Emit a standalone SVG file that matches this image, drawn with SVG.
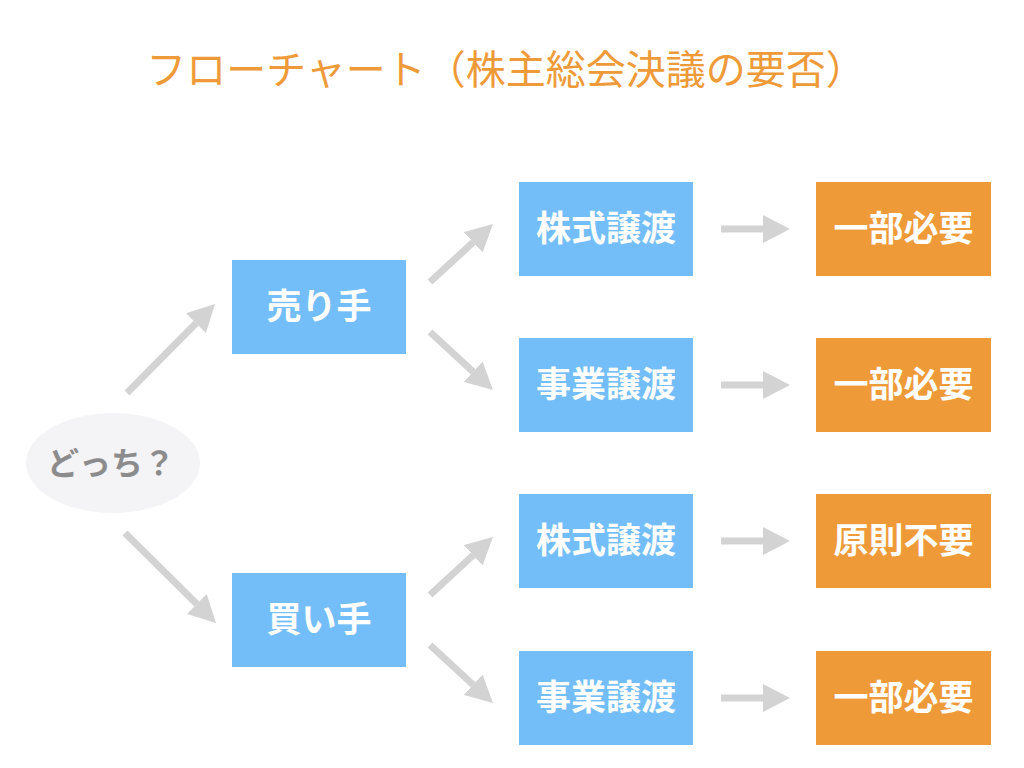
<svg xmlns="http://www.w3.org/2000/svg" width="1024" height="768" viewBox="0 0 1024 768">
<style>
.title{font-family:"Noto Sans CJK JP","Noto Sans",sans-serif;font-size:40px;fill:#ef9a38;text-anchor:middle}
.lbl{font-family:"Noto Sans CJK JP","Noto Sans",sans-serif;font-size:35px;font-weight:bold;fill:#ffffff;text-anchor:middle}
.q{font-family:"Noto Sans CJK JP","Noto Sans",sans-serif;font-size:32px;font-weight:bold;fill:#8c8c8c;text-anchor:middle}
.blue{fill:#73bef8}
.orange{fill:#ef9a38}
.conn line{stroke:#d4d3d4;stroke-width:7;marker-end:url(#ah)}
</style>
<defs>
<marker id="ah" viewBox="0 0 27 28" refX="0" refY="14" markerWidth="27" markerHeight="28" markerUnits="userSpaceOnUse" orient="auto"><path d="M0,0 L27,14 L0,28 Z" fill="#d4d3d4"/></marker>
</defs>
<rect width="1024" height="768" fill="#ffffff"/>
<text class="title" x="506" y="84">フローチャート（株主総会決議の要否）</text>
<g id="connectors" class="conn">
<line x1="127" y1="393" x2="196" y2="323.2"/>
<line x1="125" y1="533" x2="196.8" y2="604"/>
<line x1="430" y1="282" x2="473.1" y2="242.3"/>
<line x1="430" y1="332" x2="473.1" y2="371.7"/>
<line x1="430" y1="595" x2="473.1" y2="555.3"/>
<line x1="430" y1="645" x2="473.1" y2="684.7"/>
<line x1="721" y1="229" x2="763" y2="229"/>
<line x1="721" y1="385" x2="763" y2="385"/>
<line x1="721" y1="541" x2="763" y2="541"/>
<line x1="721" y1="698" x2="763" y2="698"/>
</g>
<g id="q"><ellipse cx="113" cy="463" rx="87" ry="50" fill="#f4f4f6"/><text class="q" x="111" y="475">どっち？</text></g>
<g id="seller"><rect class="blue" x="232" y="260" width="174" height="94"/><text class="lbl" x="319" y="319">売り手</text></g>
<g id="buyer"><rect class="blue" x="232" y="573" width="174" height="94"/><text class="lbl" x="319" y="632">買い手</text></g>
<g id="s-stock"><rect class="blue" x="519" y="182" width="174" height="94"/><text class="lbl" x="606" y="241">株式譲渡</text></g>
<g id="s-biz"><rect class="blue" x="519" y="338" width="174" height="94"/><text class="lbl" x="606" y="397">事業譲渡</text></g>
<g id="b-stock"><rect class="blue" x="519" y="494" width="174" height="94"/><text class="lbl" x="606" y="553">株式譲渡</text></g>
<g id="b-biz"><rect class="blue" x="519" y="651" width="174" height="94"/><text class="lbl" x="606" y="710">事業譲渡</text></g>
<g id="r1"><rect class="orange" x="816" y="182" width="175" height="94"/><text class="lbl" x="903.5" y="241">一部必要</text></g>
<g id="r2"><rect class="orange" x="816" y="338" width="175" height="94"/><text class="lbl" x="903.5" y="397">一部必要</text></g>
<g id="r3"><rect class="orange" x="816" y="494" width="175" height="94"/><text class="lbl" x="903.5" y="553">原則不要</text></g>
<g id="r4"><rect class="orange" x="816" y="651" width="175" height="94"/><text class="lbl" x="903.5" y="710">一部必要</text></g>
</svg>
